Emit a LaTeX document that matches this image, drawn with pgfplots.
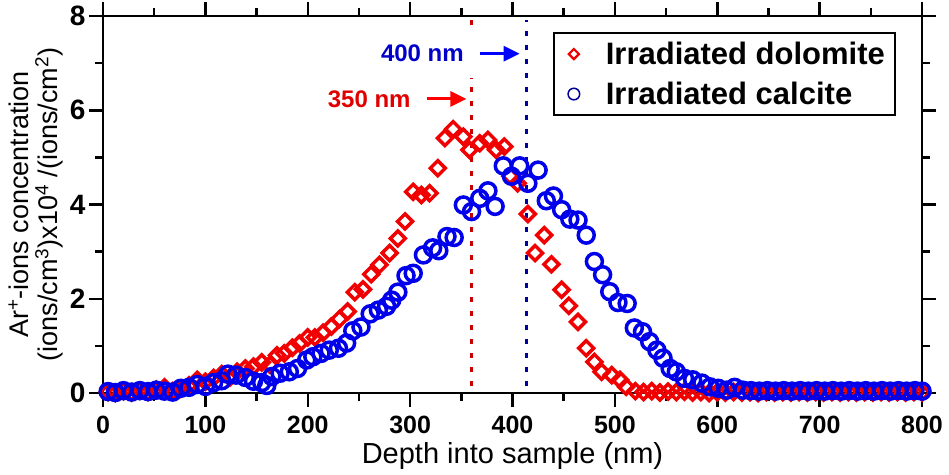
\documentclass[border=0pt]{standalone}
\usepackage{fontspec}
\setmainfont{Liberation Sans}
\usepackage{pgfplots}
\pgfplotsset{compat=1.18}
\usetikzlibrary{arrows.meta}
\definecolor{dolred}{RGB}{240,0,0}
\definecolor{calblue}{RGB}{0,0,235}
\definecolor{annred}{RGB}{225,0,0}
\definecolor{annblue}{RGB}{0,0,200}
\definecolor{dotred}{RGB}{200,0,0}
\definecolor{dotblue}{RGB}{0,0,160}
\definecolor{legblue}{RGB}{0,0,150}
\begin{document}
\begin{tikzpicture}
\useasboundingbox (-103pt,-81pt) rectangle (846pt,393pt);
\begin{axis}[
  at={(0pt,0pt)}, anchor=south west,
  width=819pt, height=377pt, scale only axis,
  xmin=0, xmax=800, ymin=0, ymax=8,
  xtick={0,100,...,800}, ytick={0,2,...,8},
  minor x tick num=1, minor y tick num=1,
  tick align=outside,
  major tick length=14pt, minor tick length=8pt,
  axis line style={line width=2.5pt},
  every tick/.style={black, line width=2.5pt},
  clip=false,
  /pgf/number format/assume math mode=true,
  xticklabel style={font=\bfseries\fontsize{25}{25}\selectfont, yshift=-6pt},
  yticklabel style={font=\bfseries\fontsize{28}{28}\selectfont},
  xlabel={Depth into sample (nm)},
  xlabel style={font=\fontsize{29}{29}\selectfont, yshift=-1pt},
  ylabel={Ar\textsuperscript{+}-ions concentration\\(ions/cm\textsuperscript{3})x10\textsuperscript{4} /(ions/cm\textsuperscript{2})},
  ylabel style={font=\fontsize{27}{29}\selectfont, align=center},
  legend style={at={(0.549,0.958)}, anchor=north west, draw=black, line width=2.5pt,
    font=\bfseries\fontsize{31}{31}\selectfont, inner xsep=10pt, inner ysep=9pt,
    nodes={inner sep=0pt}, row sep=16pt},
  legend cell align=left,
  legend image code/.code={\path[draw=none,fill=none] (0pt,-5pt) rectangle (42pt,5pt);
    \draw[mark repeat=2,mark phase=2,#1] plot coordinates {(0pt,0pt)(10pt,0pt)(20pt,0pt)};},
]
\addlegendimage{only marks, mark=square, mark size=3.6pt, mark options={rotate=45, dolred, line width=2.2pt}}
\addlegendentry{Irradiated dolomite}
\addlegendimage{only marks, mark=o, mark size=5.8pt, mark options={legblue, line width=1.5pt}}
\addlegendentry{Irradiated calcite}

\addplot[forget plot, only marks, mark=square, mark size=5.3pt, mark options={rotate=45, dolred, line width=3.5pt}] coordinates {
(5,0.02)(12,0.00)(20,0.04)(28,0.01)(36,0.05)(44,0.02)(52,0.07)(60,0.12)(68,0.04)(76,0.09)
(84,0.16)(92,0.28)(100,0.24)(108,0.32)(116,0.40)(124,0.33)(131,0.45)(139,0.52)(147,0.56)(155,0.65)
(163,0.60)(170,0.80)(177,0.84)(185,0.96)(192,1.05)(200,1.18)(207,1.18)(215,1.28)(223,1.41)(231,1.57)
(239,1.73)(246,2.14)(254,2.20)(262,2.52)(270,2.72)(280,2.97)(288,3.28)(295,3.64)(303,4.27)(311,4.20)
(319,4.24)(327,4.77)(334,5.41)(342,5.60)(352,5.44)(358,5.16)(368,5.30)(376,5.37)(384,5.16)(392,5.23)
(398,4.60)(405,4.45)(415,3.80)(422,2.97)(431,3.35)(438,2.73)(448,2.19)(455,1.85)(464,1.51)(472,0.95)
(480,0.66)(487,0.45)(497,0.38)(505,0.28)(511,0.13)(520,0.04)(528,0.02)(536,0.04)(544,0.01)(552,0.03)
(560,0.02)(568,0.03)(576,0.01)(584,0.02)(592,0.00)(600,0.02)(608,0.01)(616,0.02)(624,0.01)(632,0.02)
(640,0.00)(648,0.02)(656,0.01)(664,0.02)(672,0.01)(680,0.02)(688,0.01)(696,0.02)(704,0.01)(712,0.02)
(720,0.01)(728,0.02)(736,0.01)(744,0.02)(752,0.01)(760,0.02)(768,0.01)(776,0.02)(784,0.01)(792,0.02)(800,0.01)
};
\addplot[forget plot, only marks, mark=o, mark size=8pt, mark options={calblue, line width=3.5pt}] coordinates {
(5,0.03)(12,0.01)(20,0.05)(28,0.02)(36,0.05)(44,0.03)(52,0.06)(60,0.04)(68,0.02)(76,0.10)
(84,0.12)(92,0.18)(100,0.14)(108,0.22)(116,0.26)(122,0.40)(130,0.38)(139,0.33)(147,0.25)(155,0.22)
(160,0.16)(165,0.35)(173,0.42)(182,0.45)(190,0.52)(199,0.70)(205,0.77)(213,0.84)(221,0.91)(230,0.95)
(238,1.06)(244,1.32)(252,1.40)(261,1.68)(269,1.76)(277,1.84)(282,1.97)(288,2.14)(296,2.49)(303,2.54)
(313,2.93)(322,3.08)(328,3.02)(336,3.32)(343,3.30)(352,3.99)(360,3.85)(368,4.13)(376,4.29)(383,3.96)
(391,4.82)(399,4.60)(407,4.82)(415,4.45)(425,4.73)(433,4.08)(440,4.18)(448,3.89)(456,3.69)(464,3.67)
(472,3.35)(480,2.79)(488,2.51)(495,2.15)(503,1.92)(512,1.90)(519,1.38)(527,1.30)(534,1.09)(541,0.91)
(547,0.74)(554,0.52)(560,0.45)(568,0.31)(576,0.28)(585,0.21)(593,0.13)(601,0.10)(609,0.06)(617,0.12)
(625,0.06)(633,0.05)(641,0.04)(649,0.05)(657,0.04)(665,0.05)(673,0.04)(681,0.05)(689,0.04)(697,0.05)
(705,0.04)(713,0.05)(721,0.04)(729,0.05)(737,0.04)(745,0.05)(753,0.04)(761,0.05)(769,0.04)(777,0.05)
(785,0.04)(793,0.05)(800,0.04)
};
\draw[dotred, line width=3pt, dash pattern=on 5pt off 9pt] (axis cs:360,0.15) -- (axis cs:360,6.69);
\draw[dotred, line width=3pt, dash pattern=on 5pt off 9pt] (axis cs:360,7.80) -- (axis cs:360,7.92);
\draw[dotblue, line width=3pt, dash pattern=on 5pt off 9pt] (axis cs:414,0.15) -- (axis cs:414,7.92);
\node[font=\bfseries\fontsize{24}{24}\selectfont, text=annblue] at (axis cs:312,7.2) {400 nm};
\draw[-{Triangle[length=16pt,width=15pt]}, line width=3pt, blue] (axis cs:368,7.2) -- (axis cs:407,7.2);
\node[font=\bfseries\fontsize{24}{24}\selectfont, text=annred] at (axis cs:260,6.24) {350 nm};
\draw[-{Triangle[length=16pt,width=15pt]}, line width=3pt, red] (axis cs:316,6.24) -- (axis cs:355,6.24);
\end{axis}
\end{tikzpicture}
\end{document}
